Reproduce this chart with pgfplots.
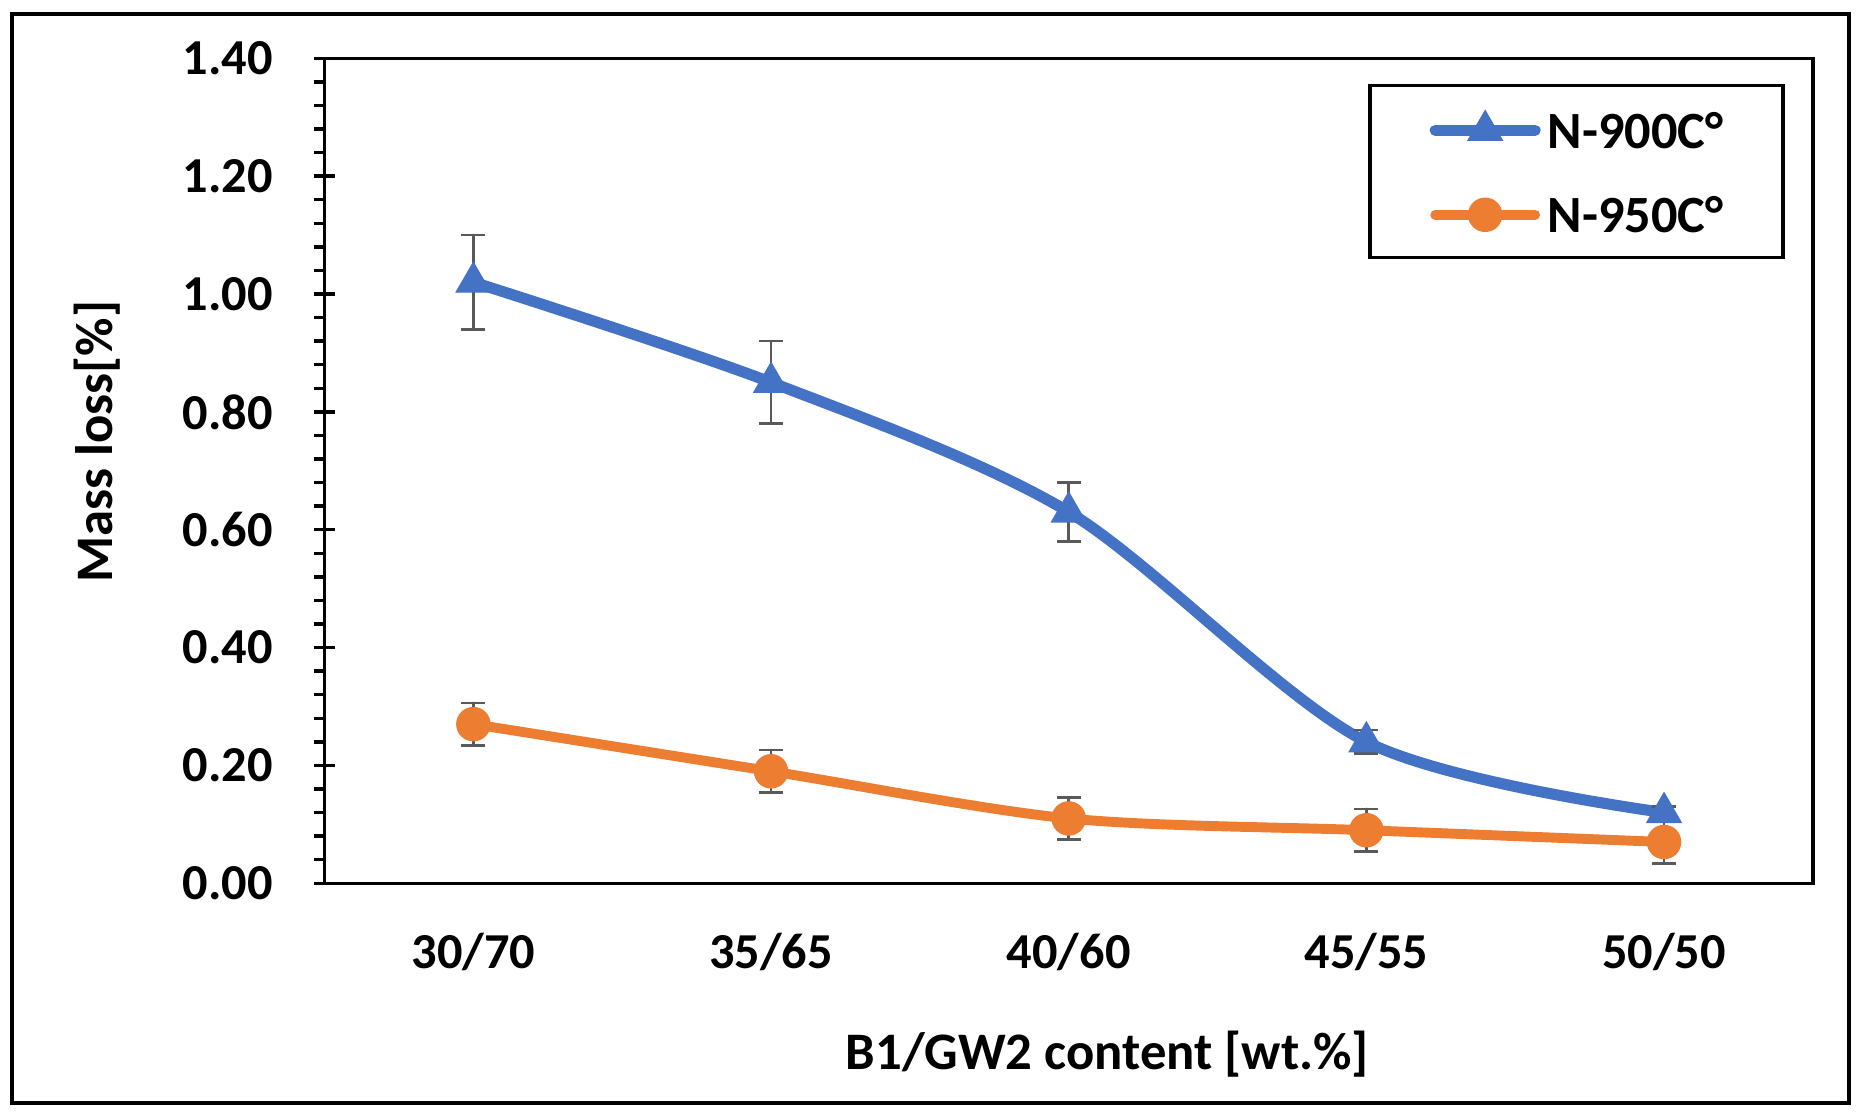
\documentclass[border=0pt]{standalone}
\usepackage{fontspec}
\setmainfont{Carlito}
\usepackage{pgfplots}
\pgfplotsset{compat=1.18}
\definecolor{cblue}{HTML}{4472C4}
\definecolor{corange}{HTML}{ED7D31}
\definecolor{errgray}{HTML}{595959}
\begin{document}
\begin{tikzpicture}
\useasboundingbox (-81.9pt,-58.2pt) rectangle (388.5pt,222.9pt);
\draw[line width=1pt] (-78.9pt,-55.5pt) rectangle (384.6pt,219.3pt);
\begin{axis}[
  at={(0,0)}, anchor=south west,
  width=375.6pt, height=208.2pt, scale only axis,
  xmin=-0.5, xmax=4.5, ymin=0, ymax=1.4,
  xtick={0,1,2,3,4},
  xticklabels={30/70,35/65,40/60,45/55,50/50},
  xtick style={draw=none},
  ytick={0,0.2,0.4,0.6,0.8,1.0,1.2,1.4},
  minor y tick num=4,
  ytick pos=left,
  tick align=outside,
  major tick length=2.6pt,
  minor tick length=2.6pt,
  tick style={black, line width=0.85pt},
  extra y ticks={0,0.2,0.4,0.6,0.8,1.0,1.2,1.4},
  extra y tick labels={},
  extra y tick style={tick align=inside, major tick length=2.6pt},
  axis line style={line width=0.85pt},
  /pgf/number format/assume math mode=true,
  tick label style={font=\fontsize{12.7}{15}\selectfont\bfseries},
  yticklabel style={xshift=-7pt, /pgf/number format/.cd, fixed, fixed zerofill, precision=2},
  xticklabel style={yshift=-6.5pt},
  label style={font=\fontsize{13.3}{15}\selectfont\bfseries},
  xlabel={B1/GW2 content [wt.\%]},
  ylabel={Mass loss[\%]},
  xlabel style={at={(axis description cs:0.526,-0.207)}, anchor=center},
  ylabel style={at={(axis description cs:-0.1526,0.535)}, anchor=center},
  legend cell align=left,
  legend style={at={(axis description cs:0.981,0.969)}, anchor=north east,
    draw=black, line width=0.9pt, inner xsep=15pt, inner ysep=6.3pt,
    row sep=12.3pt, column sep=1.8pt,
    font=\fontsize{13.2}{15}\selectfont\bfseries,
    nodes={inner sep=0pt, text height=9pt, text depth=0pt}},
  legend image code/.code={
    \draw[mark repeat=2,mark phase=2,#1] plot coordinates {(0pt,0pt) (12.6pt,0pt) (25.2pt,0pt)};
  },
]
\addplot[cblue, line width=2.8pt, line cap=round, smooth, tension=0.5,
  mark=triangle*, mark size=5pt, mark options={solid, line width=0.3pt, fill=cblue, draw=cblue},
  error bars/.cd, y dir=both, y explicit,
  error bar style={line width=0.7pt, errgray},
  error mark options={rotate=90, mark size=3pt, line width=0.7pt, errgray}]
  coordinates {(0,1.02) +- (0,0.08) (1,0.85) +- (0,0.07) (2,0.63) +- (0,0.05) (3,0.24) +- (0,0.02) (4,0.12) +- (0,0.01)};
\addlegendentry{N-900C°}
\addplot[corange, line width=2.5pt, line cap=round, smooth, tension=0.5,
  mark=*, mark size=4.2pt, mark options={solid, line width=0.3pt, fill=corange, draw=corange},
  error bars/.cd, y dir=both, y explicit,
  error bar style={line width=0.7pt, errgray},
  error mark options={rotate=90, mark size=3pt, line width=0.7pt, errgray}]
  coordinates {(0,0.27) +- (0,0.036) (1,0.19) +- (0,0.036) (2,0.11) +- (0,0.036) (3,0.09) +- (0,0.036) (4,0.07) +- (0,0.036)};
\addlegendentry{N-950C°}
\end{axis}
\end{tikzpicture}
\end{document}
